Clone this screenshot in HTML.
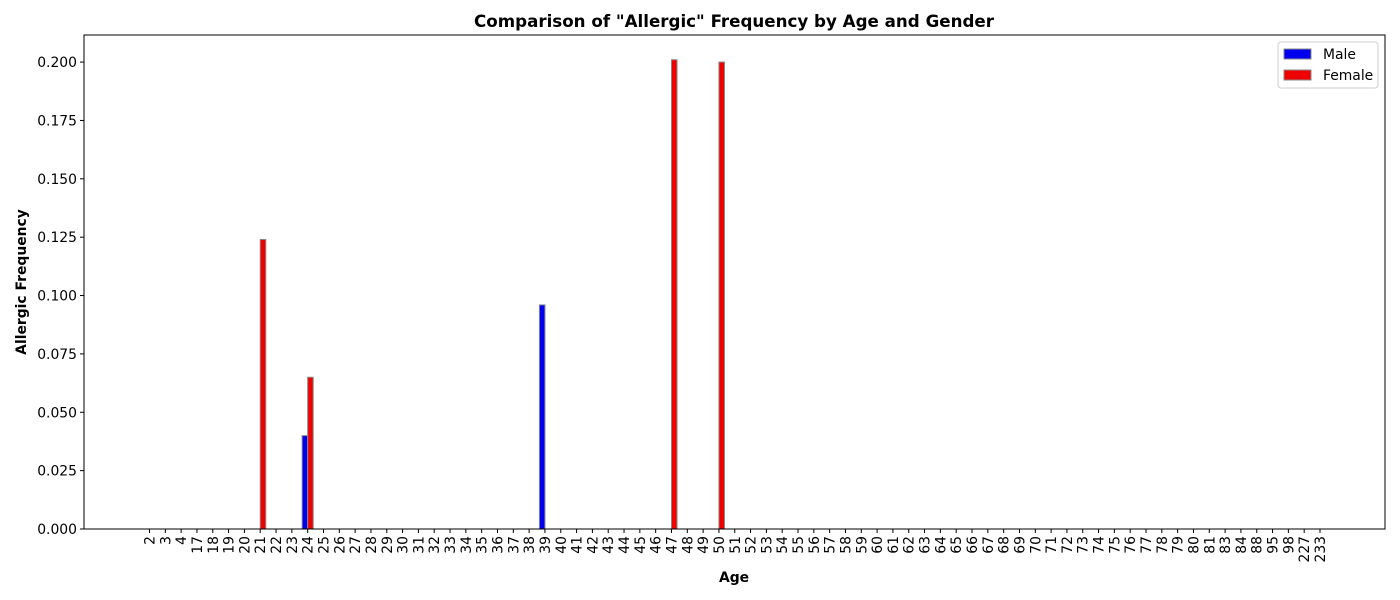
<!DOCTYPE html>
<html><head><meta charset="utf-8"><style>body{margin:0;background:#fff}svg{display:block;font-family:"DejaVu Sans","Liberation Sans",sans-serif}</style></head>
<body>
<svg id="chart" width="1400" height="600"></svg>
<script>
const categories=[2,3,4,17,18,19,20,21,22,23,24,25,26,27,28,29,30,31,32,33,34,35,36,37,38,39,40,41,42,43,44,45,46,47,48,49,50,51,52,53,54,55,56,57,58,59,60,61,62,63,64,65,66,67,68,69,70,71,72,73,74,75,76,77,78,79,80,81,83,84,88,95,98,227,233];
const maleAges=[24,39];
const maleValues=[0.040,0.096];
const femaleAges=[21,24,47,50];
const femaleValues=[0.124,0.065,0.201,0.200];
const yTicks=[0,0.025,0.05,0.075,0.1,0.125,0.15,0.175,0.2];
const NS="http://www.w3.org/2000/svg";
const svg=document.getElementById('chart');
const L=84,R=1385,T=35,B=529,x0=149.5,x1=1320,yMax=0.2116;
const step=(x1-x0)/(categories.length-1);
function xs(i){return x0+i*step;}
function ys(v){return B-(v/yMax)*(B-T);}
function el(tag,a,txt){const e=document.createElementNS(NS,tag);for(const k in a)e.setAttribute(k,a[k]);if(txt!==undefined)e.textContent=txt;svg.appendChild(e);return e;}
const bw=step*0.35;
maleAges.forEach((a,k)=>{const i=categories.indexOf(a);const r=el('rect',{x:xs(i)-bw,y:ys(maleValues[k]),width:bw,height:B-ys(maleValues[k]),fill:'#0000ee',stroke:'#888','stroke-width':1});

});
femaleAges.forEach((a,k)=>{const i=categories.indexOf(a);const r=el('rect',{x:xs(i),y:ys(femaleValues[k]),width:bw,height:B-ys(femaleValues[k]),fill:'#ee0000',stroke:'#888','stroke-width':1});

});
const fr=el('rect',{x:L,y:T,width:R-L,height:B-T,fill:'none',stroke:'#000','stroke-width':1});


yTicks.forEach(v=>{const y=ys(v);el('line',{x1:L-4,x2:L,y1:y,y2:y,stroke:'#000'});
const t=el('text',{x:L-7,y:y+5,'text-anchor':'end','font-size':13.9},v.toFixed(3));

});
categories.forEach((c,i)=>{const x=xs(i);el('line',{x1:x,x2:x,y1:B,y2:B+4,stroke:'#000'});
const t=el('text',{transform:`translate(${x+5},${B+7}) rotate(-90)`,'text-anchor':'end','font-size':13.9},String(c));

});
const ti=el('text',{x:734,y:27,'text-anchor':'middle','font-size':16.7,'font-weight':'bold'},'Comparison of "Allergic" Frequency by Age and Gender');


const xt=el('text',{x:734,y:582,'text-anchor':'middle','font-size':13.9,'font-weight':'bold'},'Age');


const yt=el('text',{transform:'translate(26,282) rotate(-90)','text-anchor':'middle','font-size':13.9,'font-weight':'bold'},'Allergic Frequency');


const lg=el('rect',{x:1278,y:42,width:100,height:46,fill:'#fff',stroke:'#ccc',rx:3});


[['Male','#0000ee',49],['Female','#ee0000',70]].forEach(([n,c,y])=>{
el('rect',{x:1284,y:y,width:27,height:10,fill:c,stroke:'#888'});
const t=el('text',{x:1323,y:y+10,'font-size':13.9},n);

});
</script>
</body></html>
